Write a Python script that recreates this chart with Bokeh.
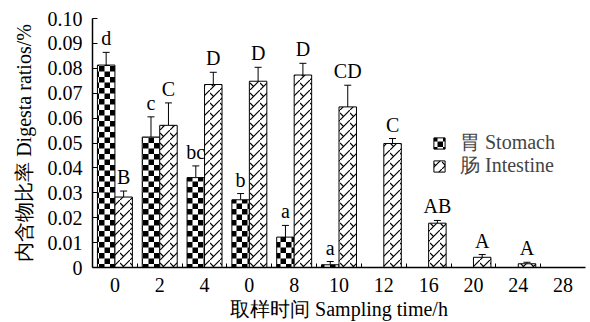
import base64
from bokeh.plotting import figure
from bokeh.models import (ColumnDataSource, Range1d, FixedTicker, Whisker, TeeHead,
                          Legend, LegendItem, ImageURLTexture)
from bokeh.core.properties import value
from bokeh.embed import file_html
from bokeh.resources import INLINE

# ---- data ----
times = ["0", "2", "4", "0", "8", "10", "12", "16", "20", "24", "28"]
stomach = [0.0813, 0.0524, 0.0361, 0.0272, 0.0122, 0.0011, None, None, None, None, None]
stomach_err = [0.0051, 0.0081, 0.0047, 0.0025, 0.0047, 0.0013, None, None, None, None, None]
stomach_sig = ["d", "c", "bc", "b", "a", "a", None, None, None, None, None]
intestine = [0.0283, 0.0571, 0.0735, 0.0748, 0.0773, 0.0645, 0.0498, 0.0178, 0.0041, 0.0015, None]
intestine_err = [0.0024, 0.0090, 0.0049, 0.0056, 0.0047, 0.0087, 0.0020, 0.0011, 0.0011, 0.0006, None]
intestine_sig = ["B", "C", "D", "D", "D", "CD", "C", "AB", "A", "A", None]
y_ticks = [0.0, 0.01, 0.02, 0.03, 0.04, 0.05, 0.06, 0.07, 0.08, 0.09, 0.10]
y_tick_labels = ["0", "0.01", "0.02", "0.03", "0.04", "0.05", "0.06", "0.07", "0.08", "0.09", "0.10"]

FONT = "Liberation Serif"
FS = "20px"
BAR_W = 0.39
OFF = 0.195


def make_source(vals, errs, sigs, offset):
    xs, tops, ups, labs = [], [], [], []
    for i, (v, e, s) in enumerate(zip(vals, errs, sigs)):
        if v is None:
            continue
        xs.append(i + 0.5 + offset)
        tops.append(v)
        ups.append(v + e)
        labs.append(s)
    return ColumnDataSource(dict(x=xs, top=tops, upper=ups, lab=labs))


src_s = make_source(stomach, stomach_err, stomach_sig, -OFF)
src_i = make_source(intestine, intestine_err, intestine_sig, +OFF)


def svg_texture(svg):
    return ImageURLTexture(url="data:image/svg+xml;base64," + base64.b64encode(svg.encode()).decode())


checker = svg_texture('<svg xmlns="http://www.w3.org/2000/svg" width="11" height="11">'
                      '<rect width="11" height="11" fill="white"/>'
                      '<rect x="0" y="0" width="5.5" height="5.5" fill="black"/>'
                      '<rect x="5.5" y="5.5" width="5.5" height="5.5" fill="black"/></svg>')
zigzag = svg_texture('<svg xmlns="http://www.w3.org/2000/svg" width="10" height="10">'
                     '<rect width="10" height="10" fill="white"/>'
                     '<path d="M0 10 L10 0 M0 3 L3.5 6.5" stroke="black" stroke-width="1.2" fill="none"/></svg>')

p = figure(width=590, height=322, output_backend="svg", toolbar_location=None,
           x_range=Range1d(0, 11), y_range=Range1d(0, 0.10),
           min_border_left=92, min_border_right=5, min_border_top=18, min_border_bottom=55)
p.outline_line_color = None
p.xgrid.visible = False
p.ygrid.visible = False
p.background_fill_color = "white"

r_s = p.vbar(x="x", top="top", width=BAR_W, source=src_s, fill_color="white",
             line_color="black", line_width=1,
             hatch_pattern=value("checker"), hatch_extra={"checker": checker},
             hatch_color="black", hatch_scale=11, hatch_weight=1)
r_i = p.vbar(x="x", top="top", width=BAR_W, source=src_i, fill_color="white",
             line_color="black", line_width=1,
             hatch_pattern=value("zigzag"), hatch_extra={"zigzag": zigzag},
             hatch_color="black", hatch_scale=10, hatch_weight=1)

for src in (src_s, src_i):
    w = Whisker(base="x", lower="top", upper="upper", source=src,
                lower_head=None, upper_head=TeeHead(size=7, line_color="black", line_width=1),
                line_color="black", line_width=1)
    p.add_layout(w)
    p.text(x="x", y="upper", text="lab", source=src, text_align="center",
           text_baseline="alphabetic", y_offset=-14, text_font=value(FONT),
           text_font_size=FS, text_color="black")

# x axis
xa = p.xaxis[0]
xa.ticker = FixedTicker(ticks=[i + 0.5 for i in range(len(times))],
                        minor_ticks=list(range(1, len(times))))
xa.major_label_overrides = {i + 0.5: t for i, t in enumerate(times)}
xa.major_tick_in = 0
xa.major_tick_out = 0
xa.minor_tick_in = 4
xa.minor_tick_out = 0
xa.axis_line_width = 1.5
xa.axis_label = "取样时间 Sampling time/h"

# y axis
ya = p.yaxis[0]
ya.ticker = FixedTicker(ticks=y_ticks)
ya.major_label_overrides = {t: l for t, l in zip(y_ticks, y_tick_labels)}
ya.major_tick_in = 5
ya.major_tick_out = 0
ya.minor_tick_in = 0
ya.minor_tick_out = 0
ya.axis_line_width = 1.5
ya.axis_label = "内含物比率 Digesta ratios/%"

for ax in (xa, ya):
    ax.major_label_text_font = FONT
    ax.major_label_text_font_size = FS
    ax.major_label_text_color = "black"
    ax.axis_label_text_font = FONT
    ax.axis_label_text_font_size = FS
    ax.axis_label_text_font_style = "normal"
    ax.axis_label_text_color = "black"
    ax.axis_line_color = "black"
    ax.major_tick_line_color = "black"
    ax.minor_tick_line_color = "black"
xa.major_label_standoff = 10
xa.axis_label_standoff = 3
ya.major_label_standoff = 10
ya.axis_label_standoff = 10

legend_kw = dict(orientation="vertical", glyph_width=14, glyph_height=14, label_standoff=14,
                 label_text_font=FONT, label_text_font_size=FS, label_height=14,
                 spacing=0, padding=0, margin=0, border_line_color=None,
                 background_fill_alpha=0)
leg1 = Legend(items=[LegendItem(label="胃 Stomach", renderers=[r_s])], location=(340, 111), **legend_kw)
leg2 = Legend(items=[LegendItem(label="肠 Intestine", renderers=[r_i])], location=(340, 88), **legend_kw)
p.add_layout(leg1)
p.add_layout(leg2)

open("out.html", "w").write(file_html(p, INLINE))
